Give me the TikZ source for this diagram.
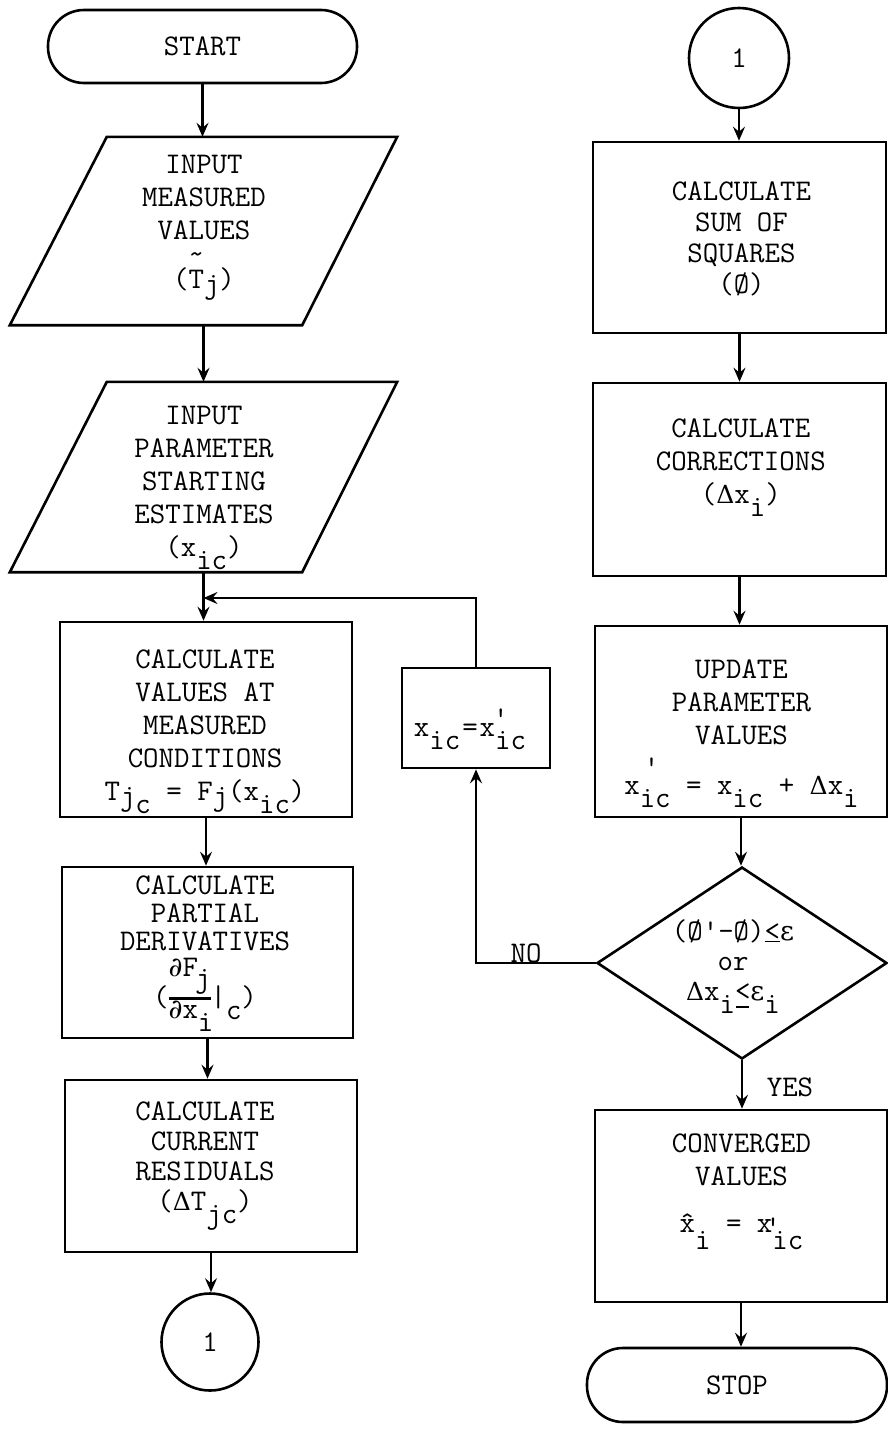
\documentclass[tikz,border=0pt]{standalone}
\usepackage{fontspec}
\newfontfamily\gk{DejaVu Serif}
\usetikzlibrary{arrows.meta,shapes.geometric,calc}
\newcommand{\ff}{\ttfamily\fontsize{30}{33}\selectfont}
\newcommand{\lo}[1]{\raisebox{-13pt}[0pt][0pt]{#1}}
\newcommand{\lob}[1]{\raisebox{-17pt}[0pt][0pt]{#1}}
\newcommand{\pr}[2]{\rlap{\kern#2\raisebox{#1}[0pt][0pt]{\textquotesingle}}}
\newcommand{\eps}{{\gk\fontsize{27}{30}\selectfont ε}}
\newcommand{\Del}{{\gk\fontsize{25}{30}\selectfont Δ}}
\newcommand{\dee}{{\gk\fontsize{27}{30}\selectfont ∂}}
\newcommand{\pfrac}{\raisebox{-12.5pt}{\vbox{\hbox to 42pt{\hfil\rule[-21pt]{0pt}{43pt}\dee F\kern-3pt\raisebox{-11pt}[0pt][0pt]{j}\hfil}\hrule height 2.2pt\hbox to 42pt{\hfil\rule[-17pt]{0pt}{36pt}\dee x\lo{i}\hfil}}}}
\tikzset{
  shp/.style={draw, line width=2.6pt, inner sep=0pt},
  box/.style={shp, rectangle},
  term/.style={shp, rectangle, rounded corners=36pt, font=\ff},
  conn/.style={shp, circle, font=\ff},
  txt/.style={align=center, inner sep=0pt, font=\ff},
  arr/.style={line width=2.4pt, -{Stealth[length=14pt,width=12pt,inset=5pt]}},
  ln/.style={line width=2.6pt, line join=miter}
}
\begin{document}
\begin{tikzpicture}[x=1pt,y=-1pt]
\useasboundingbox (0,0) rectangle (888,1451);
\fill[white] (0,0) rectangle (888,1451);

% ---------- left column ----------
\node[term, minimum width=309pt, minimum height=73pt] (start) at (202.5,46.5) {START};

\node[inner sep=0pt, minimum width=387pt, minimum height=188pt] (in1) at (203.5,231) {};
\draw[ln] ($(in1.north west)+(97,0)$) -- (in1.north east) -- ($(in1.south east)+(-95,0)$) -- (in1.south west) -- cycle;
\node[txt] (in1t) at (204,227.5) {INPUT\\MEASURED\\VALUES\\[16pt](\rlap{\raisebox{25pt}[0pt][0pt]{\textasciitilde}}T\raisebox{-5pt}{j})};

\node[inner sep=0pt, minimum width=387pt, minimum height=190pt] (in2) at (203.5,477) {};
\draw[ln] ($(in2.north west)+(97,0)$) -- (in2.north east) -- ($(in2.south east)+(-95,0)$) -- (in2.south west) -- cycle;
\node[txt] (in2t) at (204,483) {INPUT\\PARAMETER\\STARTING\\ESTIMATES\\(x\lo{ic})};

\node[box, minimum width=292pt, minimum height=195pt] (calc1) at (206,719.5) {};
\node[txt] (calc1t) at (205,731.5) {CALCULATE\\VALUES AT\\MEASURED\\CONDITIONS\\T\raisebox{-5pt}{j}\lo{c}~=~F\raisebox{-5pt}{j}(x\lo{ic})};

\node[box, minimum width=291pt, minimum height=171pt] (calc2) at (207.5,952.5) {};
\node[txt, anchor=north, font=\ttfamily\fontsize{30}{28}\selectfont] (calc2t) at (205,876) {CALCULATE\\PARTIAL\\DERIVATIVES\\[2pt](\pfrac|\lo{c})};

\node[box, minimum width=292pt, minimum height=172pt] (calc3) at (211,1166) {};
\node[txt, font=\ttfamily\fontsize{30}{30}\selectfont] (calc3t) at (205,1157.5) {CALCULATE\\CURRENT\\RESIDUALS\\(\Del T\lo{jc})};

\node[conn, minimum size=97pt] (c1a) at (210,1342) {1};

% ---------- loop box ----------
\node[box, minimum width=148pt, minimum height=100pt] (xic) at (476,718) {};
\node[txt] (xict) at (470,730) {x\lo{ic}\kern2pt=\kern2pt x\pr{8.5pt}{-2pt}\lo{ic}};

% ---------- right column ----------
\node[conn, minimum size=100pt] (c1b) at (739,58) {1};

\node[box, minimum width=293pt, minimum height=191pt] (sum) at (739.5,237.5) {};
\node[txt, font=\ttfamily\fontsize{30}{31}\selectfont] (sumt) at (741.5,238.5) {CALCULATE\\SUM OF\\SQUARES\\(Ø)};

\node[box, minimum width=293pt, minimum height=193pt] (corr) at (739.5,479.5) {};
\node[txt] (corrt) at (740.8,462.5) {CALCULATE\\CORRECTIONS\\(\Del x\lo{i})};

\node[box, minimum width=292pt, minimum height=191pt] (upd) at (741,721.5) {};
\node[txt] (updt) at (741.5,727.5) {UPDATE\\PARAMETER\\VALUES\\[17pt]x\pr{18.5pt}{4pt}\lo{ic}~=~x\lo{ic}~+~\Del x\lo{i}};

\node[shp, diamond, minimum width=290pt, minimum height=192pt] (cond) at (742,963) {};
\node[txt, font=\ttfamily\fontsize{30}{30}\selectfont] (condt) at (733,960) {(Ø\textquotesingle-Ø)\underline{<}\eps\\or\\\Del x\lo{i}\rlap{\hspace{1pt}\raisebox{-8pt}[0pt][0pt]{\rule{13pt}{2.2pt}}}<\eps\lo{i}};

\node[box, minimum width=292pt, minimum height=192pt] (conv) at (741,1206) {};
\node[txt] (convt) at (741.5,1183.5) {CONVERGED\\VALUES\\[14pt]\^{x}\lob{i}~=~x\pr{-4pt}{-7pt}\lob{ic}};

\node[term, minimum width=300pt, minimum height=74pt] (stop) at (737,1385) {STOP};

% ---------- labels ----------
\node[txt] (no) at (526,953) {NO};
\node[txt] (yes) at (790,1087) {YES};

% ---------- connectors ----------
\draw[arr] (start.south) -- (start.south |- in1.north);
\draw[arr] (in1.south) -- (in1.south |- in2.north);
\draw[arr] (in2.south) -- (in2.south |- calc1.north);
\draw[arr] (calc1.south) -- (calc1.south |- calc2.north);
\draw[arr] (calc2.south) -- (calc2.south |- calc3.north);
\draw[arr] (calc3.south) -- (calc3.south |- c1a.north);

\draw[arr] (c1b.south) -- (c1b.south |- sum.north);
\draw[arr] (sum.south) -- (sum.south |- corr.north);
\draw[arr] (corr.south) -- (corr.south |- upd.north);
\draw[arr] (upd.south) -- (upd.south |- cond.north);
\draw[arr] (cond.south) -- (cond.south |- conv.north);
\draw[arr] (conv.south) -- (conv.south |- stop.north);

\coordinate (join) at (203.5,598);
\draw[arr] (xic.north) |- (join);
\draw[arr] (cond.west) -| (xic.south);
\end{tikzpicture}
\end{document}
